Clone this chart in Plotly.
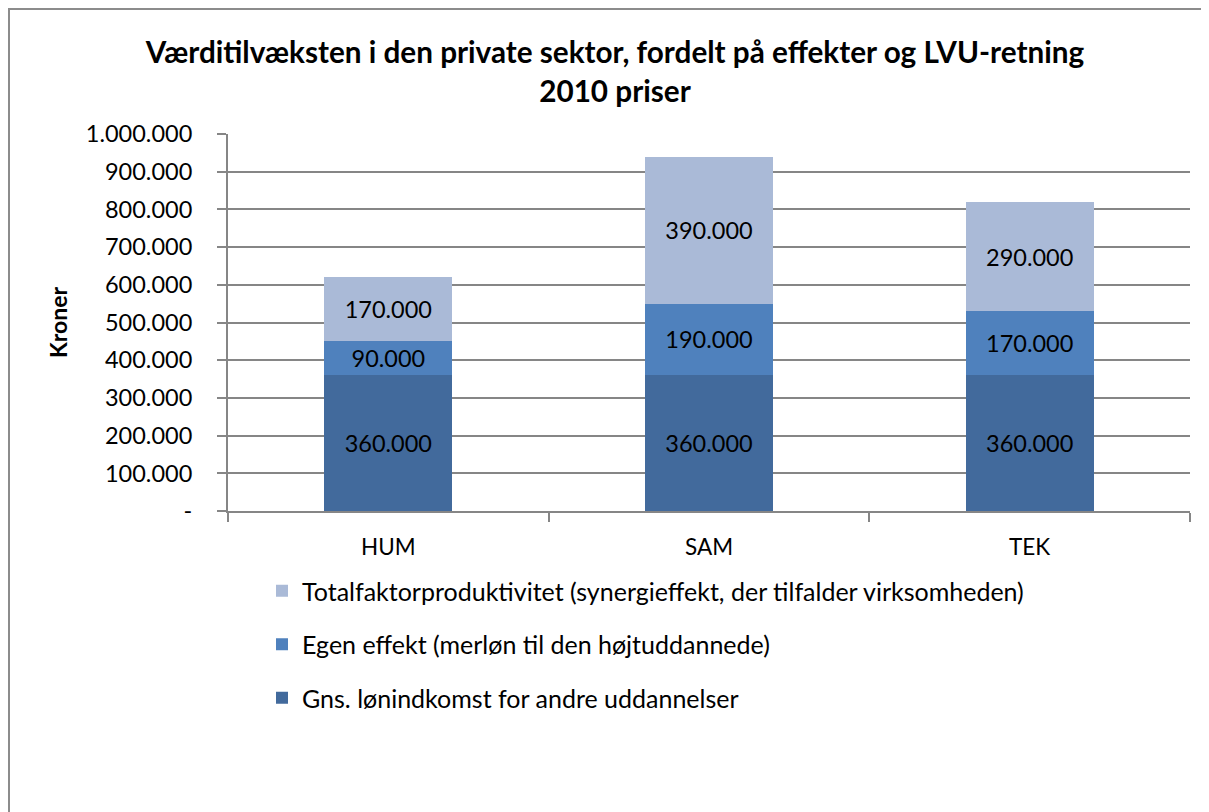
import plotly.graph_objects as go

categories = ["HUM", "SAM", "TEK"]
base_income = [360000, 360000, 360000]
own_effect = [90000, 190000, 170000]
tfp = [170000, 390000, 290000]
series_names = [
    "Gns. lønindkomst for andre uddannelser",
    "Egen effekt (merløn til den højtuddannede)",
    "Totalfaktorproduktivitet (synergieffekt, der tilfalder virksomheden)",
]
tick_values = [0, 100000, 200000, 300000, 400000, 500000, 600000, 700000, 800000, 900000, 1000000]

def fmt(v):
    return "-" if v == 0 else f"{v:,}".replace(",", ".")

tick_text = [fmt(v) for v in tick_values]

colors = ["#426A9C", "#4F81BD", "#AABAD7"]
ranks = [3, 2, 1]
FONT = "Lato"

fig = go.Figure()
for i, (vals, name) in enumerate(zip([base_income, own_effect, tfp], series_names)):
    fig.add_trace(go.Bar(
        x=categories, y=vals, name=name,
        marker=dict(color=colors[i], line=dict(width=0)),
        text=[fmt(v) for v in vals], textposition="inside",
        insidetextanchor="middle",
        textfont=dict(family=FONT, size=23.5, color="black"),
        legendgroup=f"g{i}", legendrank=ranks[i],
        hoverinfo="skip",
    ))

# page body has an 8px margin; work in screen pixels and subtract it
O = 8
W, H = 1209 - O, 812 - O
ml, mr, mt, mb = 228 - O, 19, 134 - O, 812 - 511
pw, ph = W - ml - mr, H - mt - mb

def px_x(x):
    return (x - O - ml) / pw

def px_y(y):
    return (H - mb - (y - O)) / ph

fig.update_layout(
    width=W, height=H,
    margin=dict(l=ml, r=mr, t=mt, b=mb, autoexpand=False),
    barmode="stack", bargap=0.6,
    plot_bgcolor="white", paper_bgcolor="white",
    font=dict(family=FONT, size=23, color="black"),
    title=dict(
        text="<b>Værditilvæksten i den private sektor, fordelt på effekter og LVU-retning<br>2010 priser</b>",
        x=(615 - O) / W, xanchor="center", y=1 - (63 - O) / H, yanchor="top",
        font=dict(family=FONT, size=29.7, color="black"),
    ),
    xaxis=dict(
        showline=True, linecolor="#868686", linewidth=2,
        ticks="outside", tickson="boundaries", ticklen=9, tickcolor="#868686", tickwidth=2,
        tickfont=dict(family=FONT, size=22.5), showgrid=False,
        ticklabelstandoff=15,
    ),
    yaxis=dict(
        range=[0, 1000000], tickvals=tick_values, ticktext=tick_text,
        showline=True, linecolor="#868686", linewidth=2,
        showgrid=True, gridcolor="#868686", gridwidth=2,
        ticks="outside", ticklen=9, tickcolor="#868686", tickwidth=2,
        tickfont=dict(family=FONT, size=23.5),
        ticklabelstandoff=20,
        title=dict(text="<b>Kroner</b>", font=dict(family=FONT, size=23), standoff=12),
        zeroline=False,
    ),
    legend=dict(
        x=px_x(262), xanchor="left", y=px_y(568), yanchor="top",
        traceorder="grouped", tracegroupgap=18,
        font=dict(family=FONT, size=25), bgcolor="rgba(0,0,0,0)",
        itemwidth=30,
    ),
    showlegend=True,
    shapes=[dict(
        type="rect", xref="paper", yref="paper",
        x0=px_x(9), x1=px_x(1214), y0=px_y(818), y1=px_y(9),
        line=dict(color="#8C8C8C", width=2), fillcolor="rgba(0,0,0,0)", layer="below",
    )],
)

fig.write_html("out.html")
